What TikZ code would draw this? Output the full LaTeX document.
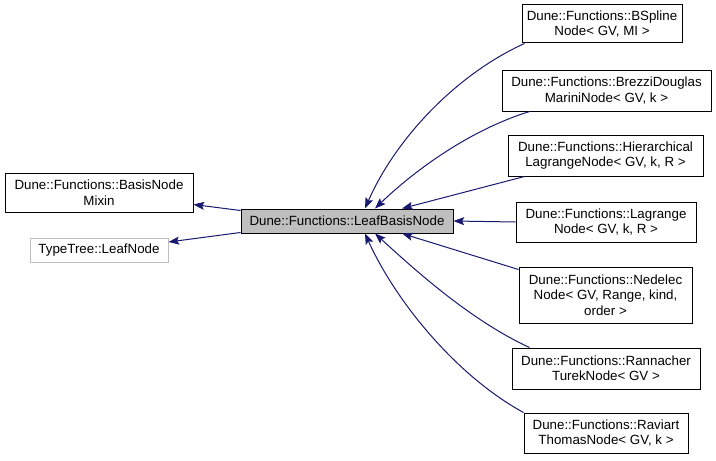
\documentclass[tikz,border=0pt]{standalone}
\usepackage{fontspec}
\setmainfont{Liberation Sans}
\usetikzlibrary{arrows.meta,calc}
\definecolor{edgeblue}{HTML}{191970}
\definecolor{leafgray}{HTML}{BFBFBF}
\tikzset{
  cls/.style={draw=black, line width=0.75pt, fill=white, rectangle, inner sep=0pt, align=center, font=\fontsize{10}{11.5}\selectfont},
  edge/.style={draw=edgeblue, line width=0.75pt, -{Stealth[length=8pt,width=6pt,inset=1.5pt]}},
}
\begin{document}
\begin{tikzpicture}[x=0.75pt,y=-0.75pt]
\useasboundingbox (0,0) rectangle (716,460);
\fill[white] (0,0) rectangle (716,460);
% boxes: helper macro for positions
\node[cls, minimum width=212*0.75pt, minimum height=24*0.75pt, fill=leafgray] (leaf) at (347,221) {Dune::Functions::LeafBasisNode};
\node[cls, minimum width=188*0.75pt, minimum height=39*0.75pt] (mixin) at (99,192.5) {Dune::Functions::BasisNode\\Mixin};
\node[cls, draw=leafgray, minimum width=138*0.75pt, minimum height=24*0.75pt] (tt) at (99,250) {TypeTree::LeafNode};
\node[cls, minimum width=160*0.75pt, minimum height=38*0.75pt] (bspline) at (602,24) {Dune::Functions::BSpline\\Node{\textless} GV, MI {\textgreater}};
\node[cls, minimum width=209*0.75pt, minimum height=41*0.75pt] (brezzi) at (606.5,90.5) {Dune::Functions::BrezziDouglas\\MariniNode{\textless} GV, k {\textgreater}};
\node[cls, minimum width=195*0.75pt, minimum height=41*0.75pt] (hier) at (605.5,155.5) {Dune::Functions::Hierarchical\\LagrangeNode{\textless} GV, k, R {\textgreater}};
\node[cls, minimum width=180*0.75pt, minimum height=40*0.75pt] (lag) at (606,222) {Dune::Functions::Lagrange\\Node{\textless} GV, k, R {\textgreater}};
\node[cls, minimum width=173*0.75pt, minimum height=56*0.75pt] (ned) at (605.5,295) {Dune::Functions::Nedelec\\Node{\textless} GV, Range, kind,\\order {\textgreater}};
\node[cls, minimum width=188*0.75pt, minimum height=41*0.75pt] (ran) at (606,368.5) {Dune::Functions::Rannacher\\TurekNode{\textless} GV {\textgreater}};
\node[cls, minimum width=164*0.75pt, minimum height=40*0.75pt] (rav) at (606,433) {Dune::Functions::Raviart\\ThomasNode{\textless} GV, k {\textgreater}};
% edges
\draw[edge] ($(bspline.south west)+(3,0)$) .. controls (455,75) and (395,140) .. ($(leaf.north)+(18,0)$);
\draw[edge] ($(brezzi.south west)+(28,0)$) .. controls (470,130) and (415,170) .. ($(leaf.north)+(28,0)$);
\draw[edge] ($(hier.south west)+(17,0)$) -- ($(leaf.north)+(55,0)$);
\draw[edge] (lag.west) -- (leaf.east);
\draw[edge] ($(ned.north west)+(0,3)$) -- ($(leaf.south)+(55,0)$);
\draw[edge] ($(ran.north west)+(18,0)$) .. controls (470,320) and (415,270) .. ($(leaf.south)+(28,0)$);
\draw[edge] ($(rav.north west)+(0,0)$) .. controls (455,375) and (395,300) .. ($(leaf.south)+(18,0)$);
\draw[edge] ($(leaf.north west)+(0,2)$) -- ($(mixin.east)+(0,12)$);
\draw[edge] ($(leaf.south west)+(0,-1)$) -- ($(tt.east)+(0,-8)$);
\end{tikzpicture}
\end{document}
